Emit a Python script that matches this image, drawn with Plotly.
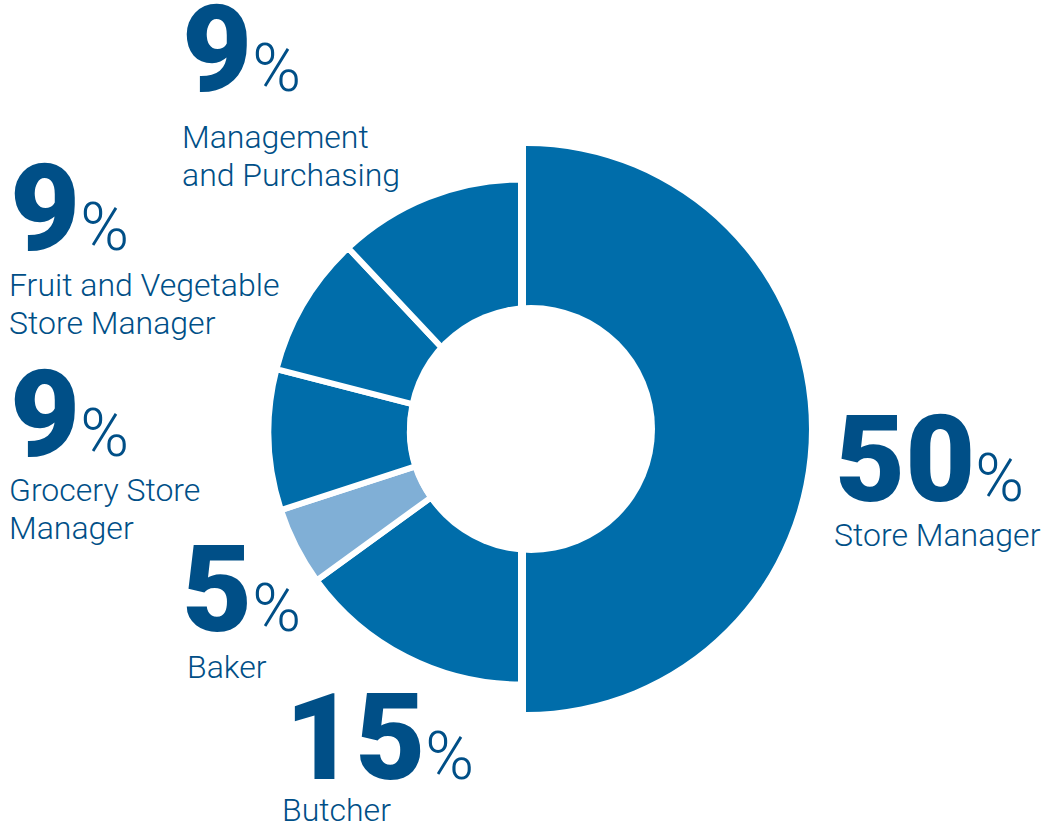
import plotly.graph_objects as go

# ---- data ----
categories = ["Store Manager", "Butcher", "Baker", "Grocery Store Manager",
              "Fruit and Vegetable Store Manager", "Management and Purchasing"]
slice_values = [50, 15, 5, 9, 9, 12]          # slice sizes as drawn
label_pcts = [50, 15, 5, 9, 9, 9]             # percentages as printed
label_lines = [["Store Manager"], ["Butcher"], ["Baker"], ["Grocery Store", "Manager"],
               ["Fruit and Vegetable", "Store Manager"], ["Management", "and Purchasing"]]

# ---- style ----
W, H = 1041, 827
DARK = "#006DAA"
LIGHT = "#80AFD6"
TEXT = "#004F87"
CLEAR = "rgba(0,0,0,0)"
FONT = "Roboto"
NUM_SIZE = 121
PCT_SIZE = 66
LAB_SIZE = 32
LINE_GAP = 38

# text placement in pixels: (number left, number baseline, label left, label first baseline)
text_pos = [
    (833, 502, 832, 545),
    (283, 780, 280, 820),
    (180, 632, 185, 677),
    (8, 457, 7, 500),
    (8, 251, 7, 295),
    (180, 92, 180, 147),
]

def px_x(x):
    return x / W

def px_y(y):
    return 1 - y / H

def dom(cx, cy, r):
    return dict(x=[(cx - r) / W, (cx + r) / W], y=[(H - cy - r) / H, (H - cy + r) / H])

fig = go.Figure()

# outer (larger) ring: only the Store Manager slice is visible
fig.add_trace(go.Pie(
    labels=categories, values=slice_values, sort=False, direction="clockwise", rotation=0,
    hole=0.42, domain=dom(526, 429, 283), textinfo="none", showlegend=False,
    marker=dict(colors=[DARK] + [CLEAR] * 5, line=dict(width=0, color=CLEAR)),
    hoverinfo="label+percent",
))

# inner ring: the remaining slices
fig.add_trace(go.Pie(
    labels=categories, values=slice_values, sort=False, direction="clockwise", rotation=0,
    hole=0.44, domain=dom(521, 432, 252.5), textinfo="none", showlegend=False,
    marker=dict(colors=[CLEAR, DARK, LIGHT, DARK, DARK, DARK],
                line=dict(width=[0, 6, 6, 6, 6, 6],
                          color=[CLEAR, "white", "white", "white", "white", "white"])),
    hoverinfo="label+percent",
))

annotations = []
asc, desc = 0.928, 0.244
for pct, lines, (nx, nb, lx, lb) in zip(label_pcts, label_lines, text_pos):
    annotations.append(dict(
        xref="paper", yref="paper", x=px_x(nx), y=px_y(nb + 1 + desc * NUM_SIZE),
        xanchor="left", yanchor="bottom", showarrow=False, align="left",
        text=f"{pct}<span style='font-size:{PCT_SIZE}px;font-weight:300'>%</span>",
        font=dict(family=FONT, size=NUM_SIZE, color=TEXT, weight=900),
    ))
    for k, line in enumerate(lines):
        base = lb + k * LINE_GAP
        annotations.append(dict(
            xref="paper", yref="paper", x=px_x(lx), y=px_y(base - 1 - asc * LAB_SIZE),
            xanchor="left", yanchor="top", showarrow=False, align="left",
            text=line, font=dict(family=FONT, size=LAB_SIZE, color=TEXT, weight=300),
        ))

fig.update_layout(
    width=W, height=H, margin=dict(l=0, r=0, t=0, b=0),
    paper_bgcolor="white", plot_bgcolor="white",
    annotations=annotations,
    shapes=[dict(type="circle", xref="paper", yref="paper",
                 x0=407 / W, x1=655 / W, y0=(H - 429 - 124) / H, y1=(H - 429 + 124) / H,
                 fillcolor="white", line=dict(width=0), layer="above")],
)

fig.write_html("out.html", config={"displayModeBar": False},
               post_script="document.body.style.margin='0';")
